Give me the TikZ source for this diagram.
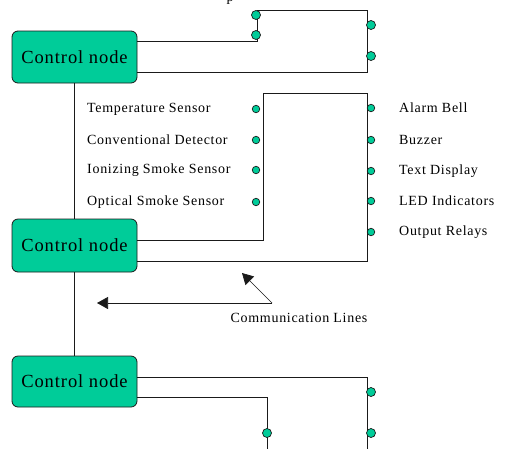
\documentclass[tikz,border=0pt]{standalone}
\usepackage{fontspec}
\setmainfont{Liberation Serif}
\newfontfamily\lblfont{Liberation Serif}[LetterSpace=5]
\usetikzlibrary{arrows.meta}
\definecolor{nodegreen}{HTML}{00CC99}
\definecolor{edge}{HTML}{1A1A1A}
\tikzset{
  ctrl/.style={draw=edge, line width=0.8pt, fill=nodegreen, rounded corners=6pt,
    minimum width=125pt, inner sep=0pt, font=\lblfont\fontsize{18.5}{20}\selectfont},
  wire/.style={draw=edge, line width=0.9pt},
  pin/.style={circle, draw=edge, line width=0.7pt, fill=nodegreen, inner sep=0pt, minimum size=7.5pt},
  bigpin/.style={pin, minimum size=9pt},
  lbl/.style={font=\lblfont\fontsize{14}{16}\selectfont, inner sep=0pt},
  pointer/.style={draw=edge, line width=0.7pt, -{Triangle[length=11pt,width=12pt]}}
}
\begin{document}
\begin{tikzpicture}[x=1pt,y=-1pt]
\useasboundingbox[fill=white] (0,0) rectangle (508,448);

% control nodes
\node[ctrl, minimum height=52pt] (c1) at (74.5,57) {Control node};
\node[ctrl, minimum height=53pt] (c2) at (74.5,245.5) {Control node};
\node[ctrl, minimum height=51pt] (c3) at (74.5,381.5) {Control node};

% bus between control nodes
\draw[wire] (c1) -- (c2);
\draw[wire] (c2) -- (c3);

% top module
\draw[wire] ([yshift=16pt]c1.east) -| (257,10) -| (367,72) -- ([yshift=-15pt]c1.east);
\node[bigpin] (t1) at (256,15) {};
\node[bigpin] (t2) at (256,35) {};
\node[bigpin] (t3) at (371,25) {};
\node[bigpin] (t4) at (371,56) {};
\node[lbl, anchor=base] (tcut) at (230,1) {p};

% middle module: inputs and outputs
\draw[wire] ([yshift=5.5pt]c2.east) -| (263,93) -| (367,261) -- ([yshift=-15.5pt]c2.east);

\node[pin] (i1) at (256,109) {};
\node[pin] (i2) at (256,140) {};
\node[pin] (i3) at (256,170) {};
\node[pin] (i4) at (256,202) {};
\node[lbl, anchor=west] (li1) at (87,109) {Temperature Sensor};
\node[lbl, anchor=west] (li2) at (87,140) {Conventional Detector};
\node[lbl, anchor=west] (li3) at (87,170) {Ionizing Smoke Sensor};
\node[lbl, anchor=west] (li4) at (87,202) {Optical Smoke Sensor};

\node[pin] (o1) at (371,108) {};
\node[pin] (o2) at (371,140) {};
\node[pin] (o3) at (371,171) {};
\node[pin] (o4) at (371,201) {};
\node[pin] (o5) at (371,232) {};
\node[lbl, anchor=west] (lo1) at (399,108) {Alarm Bell};
\node[lbl, anchor=west] (lo2) at (399,140) {Buzzer};
\node[lbl, anchor=west] (lo3) at (399,171) {Text Display};
\node[lbl, anchor=west] (lo4) at (399,201) {LED Indicators};
\node[lbl, anchor=west] (lo5) at (399,232) {Output Relays};

% communication lines callout
\node[lbl] (comm) at (299,318) {Communication Lines};
\coordinate (csrc) at (272,303);
\coordinate (cbus) at (97,303);
\coordinate (cwire) at (242,273);
\draw[pointer] (csrc) -- (cbus);
\draw[pointer] (csrc) -- (cwire);

% bottom module
\draw[wire] ([yshift=4.5pt]c3.east) -| (367,450);
\draw[wire] ([yshift=-15.5pt]c3.east) -| (267,450);
\node[bigpin] (b1) at (371,392) {};
\node[bigpin] (b2) at (371,433) {};
\node[bigpin] (b3) at (267,433) {};
\end{tikzpicture}
\end{document}
